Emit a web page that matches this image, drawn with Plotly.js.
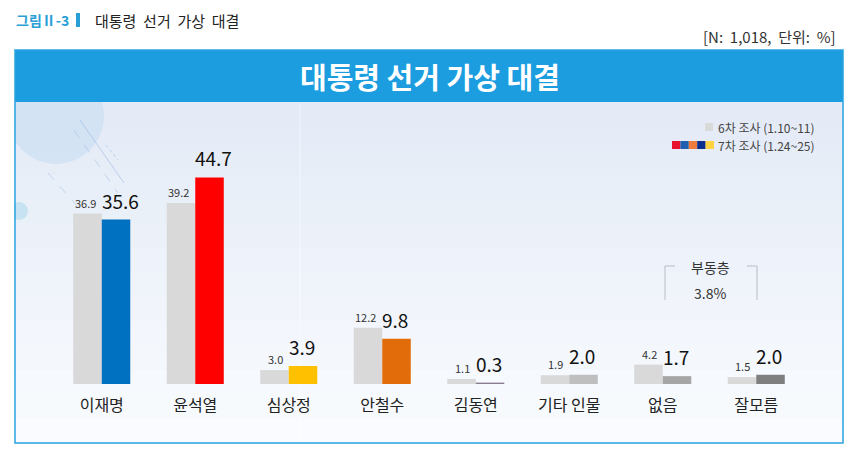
<!DOCTYPE html>
<html>
<head>
<meta charset="utf-8">
<script src="https://cdn.plot.ly/plotly-3.0.1.min.js"></script>
<style>
  html, body { margin: 0; padding: 0; background: #ffffff; }
  #chart { width: 859px; height: 457px; }
</style>
</head>
<body>
<div id="chart"></div>
<script>
const categories = ["이재명", "윤석열", "심상정", "안철수", "김동연", "기타 인물", "없음", "잘모름"];
const wave6 = [36.9, 39.2, 3.0, 12.2, 1.1, 1.9, 4.2, 1.5];
const wave7 = [35.6, 44.7, 3.9, 9.8, 0.3, 2.0, 1.7, 2.0];
const wave7Colors = ["#0070c0", "#ff0000", "#ffc000", "#e36c0a", "#8a7c8e", "#bfbfbf", "#a6a6a6", "#7f7f7f"];
const seriesNames = ["6차 조사 (1.10~11)", "7차 조사 (1.24~25)"];
const legendSwatches = ["#e8142d", "#1f5fb0", "#f07b3f", "#0b2e8c", "#ffd23f"];
const undecided = "3.8%";

const FONT = '"Noto Sans CJK KR", "Noto Sans", sans-serif';

// plot area in pixels: x 55..803, y 153..384
const L = 55, R = 803, T = 153, B = 384;
const px = (v) => (v - L) / (R - L);
const py = (v) => (B - v) / (B - T);

function rect(x0, y0, x1, y1, fill, extra) {
  return Object.assign({
    type: "rect", xref: "paper", yref: "paper", layer: "below",
    x0: px(x0), x1: px(x1), y0: py(y1), y1: py(y0),
    fillcolor: fill, line: { width: 0 },
  }, extra || {});
}

function line(x0, y0, x1, y1, color, extra) {
  return Object.assign({
    type: "line", xref: "paper", yref: "paper", layer: "below",
    x0: px(x0), x1: px(x1), y0: py(y0), y1: py(y1),
    line: { color: color, width: 1 },
  }, extra || {});
}

function note(x, y, text, size, color, anchor, extra) {
  return Object.assign({
    xref: "paper", yref: "paper", x: px(x), y: py(y), text: text,
    showarrow: false, xanchor: anchor || "center", yanchor: "middle",
    font: { family: FONT, size: size, color: color },
  }, extra || {});
}

const shapes = [];

// body background, faked gradient
const bands = 14;
const bgTop = [228, 235, 246], bgBot = [249, 251, 254];
for (let i = 0; i < bands; i++) {
  const t = i / (bands - 1);
  const c = bgTop.map((v, k) => Math.round(v + (bgBot[k] - v) * t));
  const y0 = 102 + (341 * i) / bands;
  const y1 = 102 + (341 * (i + 1)) / bands + 1;
  shapes.push(rect(15, y0, 843, Math.min(y1, 443), `rgb(${c.join(",")})`));
}

// decorations top-left
shapes.push({
  type: "circle", xref: "paper", yref: "paper", layer: "below",
  x0: px(8), x1: px(104), y0: py(164), y1: py(68),
  fillcolor: "rgba(200,222,242,0.6)", line: { width: 0 },
});
shapes.push({
  type: "circle", xref: "paper", yref: "paper", layer: "below",
  x0: px(10), x1: px(28), y0: py(220), y1: py(202),
  fillcolor: "rgba(190,222,240,0.8)", line: { width: 0 },
});
shapes.push(line(80, 120, 124, 183, "rgba(150,185,225,0.6)"));
shapes.push(line(74, 130, 118, 193, "", { line: { color: "rgba(150,185,225,0.5)", width: 1, dash: "dash" } }));
shapes.push(line(48, 173, 100, 232, "", { line: { color: "rgba(150,185,225,0.5)", width: 1, dash: "dash" } }));
shapes.push(line(106, 145, 118, 160, "", { line: { color: "rgba(150,185,225,0.6)", width: 1, dash: "dot" } }));
shapes.push(line(300, 104, 300, 440, "rgba(255,255,255,0.5)"));

// header bar and frame
shapes.push(rect(0, 40, 14.5, 457, "#ffffff"));
shapes.push(rect(15, 50, 843, 102, "#1b9ddf"));
shapes.push(rect(15, 50, 843, 443, "rgba(0,0,0,0)", { line: { color: "#2aa3e0", width: 1.5 } }));

// caption marker
shapes.push(rect(76, 13, 80, 27, "#2a9fd6"));

// legend swatches
shapes.push(rect(705, 123, 713, 131, "#d9d9d9"));
legendSwatches.forEach((c, i) => {
  shapes.push(rect(672 + i * 8.4, 141, 672 + (i + 1) * 8.4, 149, c));
});

// undecided bracket
const bc = "#b8bcc4";
shapes.push(line(665, 266, 665, 300, bc));
shapes.push(line(665, 266, 675, 266, bc));
shapes.push(line(747, 266, 757, 266, bc));
shapes.push(line(757, 266, 757, 300, bc));

const annotations = [
  note(14, 20, "<b>그림Ⅱ-3</b>", 14, "#2a9fd6", "left"),
  note(93, 20, "대통령  선거  가상  대결", 15, "#222222", "left"),
  note(838, 37, "[N:  1,018,  단위:  %]", 15, "#333333", "right"),
  note(430, 76, "<b>대통령 선거 가상 대결</b>", 29, "#ffffff", "center"),
  note(716, 127, seriesNames[0], 12, "#444444", "left"),
  note(716, 145, seriesNames[1], 12, "#444444", "left"),
  note(710, 267, "부동층", 14, "#333333", "center"),
  note(710, 293, undecided, 14, "#333333", "center"),
];

// value labels: 6th wave right-aligned just left of the category centre,
// 7th wave left-aligned from the centre
categories.forEach((cat, i) => {
  annotations.push({
    xref: "x", yref: "y", x: cat, y: wave6[i],
    text: wave6[i].toFixed(1), showarrow: false,
    xanchor: "right", yanchor: "bottom", xshift: -4, yshift: 1,
    font: { family: FONT, size: 11, color: "#333333" },
  });
  annotations.push({
    xref: "x", yref: "y", x: cat, y: wave7[i],
    text: wave7[i].toFixed(1), showarrow: false,
    xanchor: "left", yanchor: "bottom", xshift: -2, yshift: 4,
    font: { family: FONT, size: 19, color: "#111111" },
  });
});

const traces = [
  {
    type: "bar", name: seriesNames[0], x: categories, y: wave6,
    marker: { color: "#d9d9d9" },
    hovertemplate: "%{x}: %{y:.1f}%<extra>%{fullData.name}</extra>",
  },
  {
    type: "bar", name: seriesNames[1], x: categories, y: wave7,
    marker: { color: wave7Colors },
    hovertemplate: "%{x}: %{y:.1f}%<extra>%{fullData.name}</extra>",
  },
];

const layout = {
  width: 859,
  height: 457,
  margin: { l: L, r: 859 - R, t: T, b: 457 - B },
  paper_bgcolor: "rgba(0,0,0,0)",
  plot_bgcolor: "rgba(0,0,0,0)",
  font: { family: FONT, color: "#222222" },
  showlegend: false,
  barmode: "group",
  bargap: 0.39,
  bargroupgap: 0,
  xaxis: {
    type: "category",
    range: [-0.5, 7.5],
    showgrid: false, zeroline: false, showline: false,
    ticks: "", ticklabelstandoff: 10,
    tickfont: { family: FONT, size: 16, color: "#222222" },
    fixedrange: true,
  },
  yaxis: {
    range: [0, 50],
    visible: false,
    showgrid: false, zeroline: false,
    fixedrange: true,
  },
  shapes: shapes,
  annotations: annotations,
};

Plotly.newPlot("chart", traces, layout, { displayModeBar: false, staticPlot: true });
</script>
</body>
</html>
